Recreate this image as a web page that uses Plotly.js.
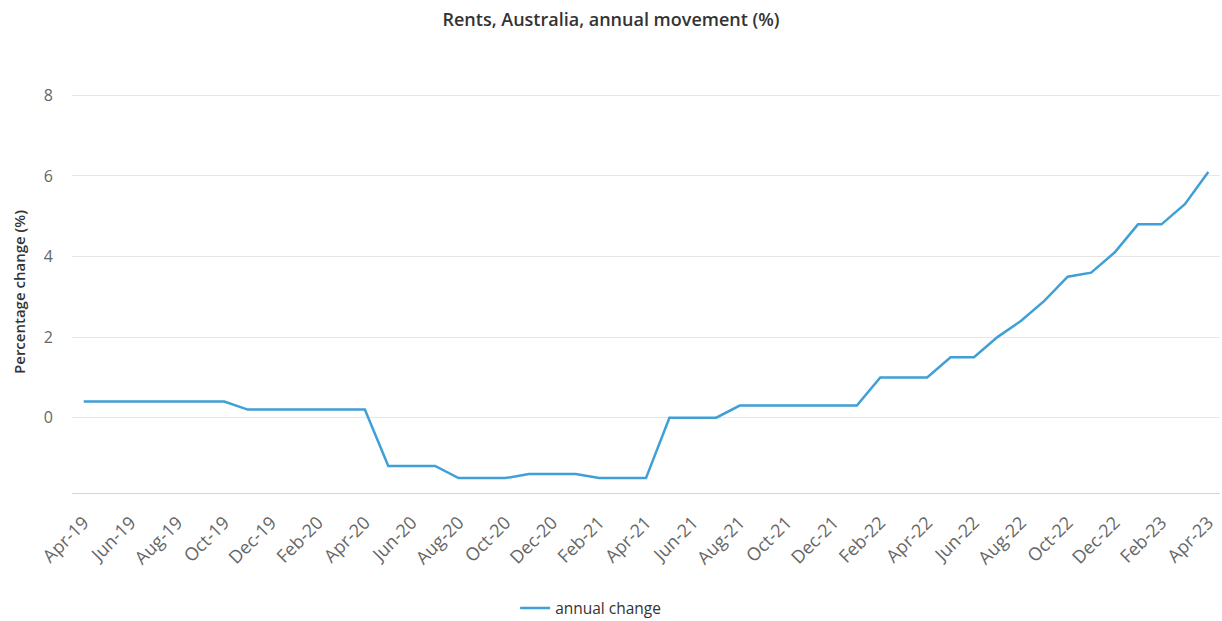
<!DOCTYPE html>
<html>
<head>
<meta charset="utf-8">
<script src="https://cdn.plot.ly/plotly-3.0.1.min.js"></script>
<style>html,body{margin:0;padding:0;background:#fff;}#chart{width:1222px;height:621px;}</style>
</head>
<body>
<div id="chart"></div>
<script>
const months = ["Apr-19","May-19","Jun-19","Jul-19","Aug-19","Sep-19","Oct-19","Nov-19","Dec-19",
  "Jan-20","Feb-20","Mar-20","Apr-20","May-20","Jun-20","Jul-20","Aug-20","Sep-20","Oct-20","Nov-20","Dec-20",
  "Jan-21","Feb-21","Mar-21","Apr-21","May-21","Jun-21","Jul-21","Aug-21","Sep-21","Oct-21","Nov-21","Dec-21",
  "Jan-22","Feb-22","Mar-22","Apr-22","May-22","Jun-22","Jul-22","Aug-22","Sep-22","Oct-22","Nov-22","Dec-22",
  "Jan-23","Feb-23","Mar-23","Apr-23"];
const annualChange = [0.4,0.4,0.4,0.4,0.4,0.4,0.4,0.2,0.2,
  0.2,0.2,0.2,0.2,-1.2,-1.2,-1.2,-1.5,-1.5,-1.5,-1.4,-1.4,
  -1.4,-1.5,-1.5,-1.5,0,0,0,0.3,0.3,0.3,0.3,0.3,
  0.3,1.0,1.0,1.0,1.5,1.5,2.0,2.4,2.9,3.5,3.6,4.1,
  4.8,4.8,5.3,6.1];
const yTicks = [0,2,4,6,8];
const xTickLabels = months.filter((m,i)=>i%2===0);

const trace = {
  type: 'scatter', mode: 'lines', name: 'annual change',
  x: months, y: annualChange,
  line: {color: '#3f9fd6', width: 2.5}
};
const layout = {
  width: 1222, height: 621,
  margin: {l: 72, r: 2, t: 91, b: 128, autoexpand: false},
  paper_bgcolor: '#fff', plot_bgcolor: '#fff',
  font: {family: 'Open Sans, sans-serif', color: '#666'},
  title: {text: 'Rents, Australia, annual movement (%)', x: 0.5, xref: 'container', xanchor: 'center',
          y: 1 - 20/621, yref: 'container', yanchor: 'middle',
          font: {size: 18, color: '#333', family: 'Open Sans, sans-serif', weight: 600}},
  xaxis: {
    type: 'category', range: [-0.5, months.length - 0.5], automargin: false,
    tickvals: xTickLabels, ticktext: xTickLabels, tickangle: -45,
    tickfont: {size: 18, color: '#666', family: 'Open Sans, sans-serif'},
    showgrid: false, zeroline: false,
    showline: true, linecolor: '#ccd6eb', linewidth: 1,
    ticks: '', ticklabelstandoff: 11, fixedrange: true
  },
  yaxis: {
    range: [-1.87, 8.11], tickvals: yTicks, ticktext: yTicks.map(String), automargin: false,
    tickfont: {size: 16, color: '#666'},
    showgrid: true, gridcolor: '#e6e6e6', gridwidth: 1, zeroline: false,
    showline: false, ticks: '', ticklabelstandoff: 18,
    title: {text: 'Percentage change (%)', standoff: 14,
            font: {size: 15, color: '#333', family: 'Open Sans, sans-serif', weight: 600}}
  },
  showlegend: true,
  legend: {orientation: 'h', x: 0.386, xanchor: 'left', y: -0.287, yanchor: 'middle',
           font: {size: 15.5, color: '#333'}, bgcolor: 'rgba(0,0,0,0)'}
};
Plotly.newPlot('chart', [trace], layout, {displayModeBar: false, staticPlot: true});
</script>
</body>
</html>
